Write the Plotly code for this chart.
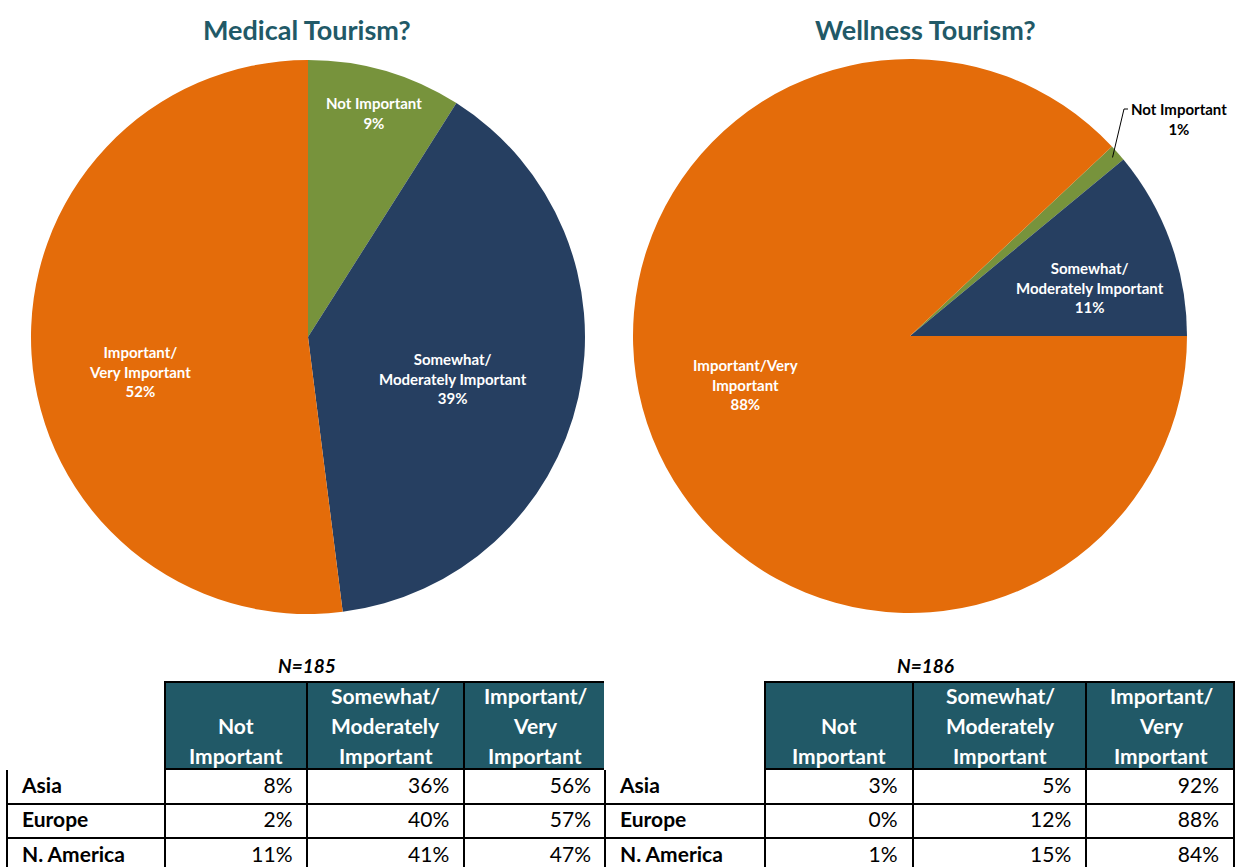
import math
import plotly.graph_objects as go

W, H = 1235, 867

ORANGE = "#E46C0A"
NAVY = "#263F61"
GREEN = "#77933C"
TEAL = "#215967"
FONT = "Lato"

# pie data
categories = ["Not Important", "Somewhat/Moderately Important", "Important/Very Important"]
medical_pct = [9, 39, 52]
wellness_pct = [1, 11, 88]
medical_labels = ["Not Important", "Somewhat/<br>Moderately Important", "Important/<br>Very Important"]
wellness_labels = ["Not Important", "Somewhat/<br>Moderately Important", "Important/Very<br>Important"]
slice_colors = [GREEN, NAVY, ORANGE]

# table data
regions = ["Asia", "Europe", "N.\u00a0America"]
table_header = [[], ["Not", "Important"], ["Somewhat/", "Moderately", "Important"], ["Important/", "Very", "Important"]]
medical_not = [8, 2, 11]
medical_somewhat = [36, 40, 41]
medical_important = [56, 57, 47]
wellness_not = [3, 0, 1]
wellness_somewhat = [5, 12, 15]
wellness_important = [92, 88, 84]
medical_n = 185
wellness_n = 186


def px(x, y):
    return x / W, 1 - y / H


fig = go.Figure()

# wellness pie: orange slice should start at 3 o'clock
wellness_rot = 90 - 360 * (wellness_pct[0] + wellness_pct[1]) / sum(wellness_pct)

for vals, x0, x1, y0, y1, rot in [
    (medical_pct, 31, 585, 60, 614, 0),
    (wellness_pct, 633, 1187, 59, 613, wellness_rot),
]:
    fig.add_trace(go.Pie(
        labels=categories, values=vals, sort=False, direction="clockwise", rotation=rot,
        marker=dict(colors=slice_colors, line=dict(width=0)),
        textinfo="none", hoverinfo="label+percent", showlegend=False,
        domain=dict(x=[x0 / W, x1 / W], y=[1 - y1 / H, 1 - y0 / H]),
    ))

annotations = []


def label(x, y, text, size=15, color="white", yanchor="middle", **kw):
    ax, ay = px(x, y)
    annotations.append(dict(x=ax, y=ay, xref="paper", yref="paper", text=text, showarrow=False,
                            xanchor="center", yanchor=yanchor,
                            font=dict(family=FONT, size=size, color=color, weight="bold", **kw)))


TABLE_TOP = 682
HEADER_H = 87
ROW_H = 34.5
PAD = "\u2004"


def add_table(x0, x1, widths, c1, c2, c3):
    fig.add_trace(go.Table(
        domain=dict(x=[x0 / W, x1 / W], y=[0, 1 - TABLE_TOP / H]),
        columnwidth=widths,
        header=dict(
            values=["", "", "", ""],
            fill_color=["white", TEAL, TEAL, TEAL],
            line=dict(color=["white", "black", "black", "black"], width=2),
            height=HEADER_H,
        ),
        cells=dict(
            values=[[PAD + r for r in regions]] + [[f"{v}%{PAD}" for v in c] for c in (c1, c2, c3)],
            fill_color="white",
            line=dict(color="black", width=2),
            align=["left", "right", "right", "right"], height=ROW_H,
            font=dict(family=FONT, size=21, color="black",
                      weight=["bold", "normal", "normal", "normal"]),
        ),
    ))
    # header captions, one line at a time, bottom aligned
    scale = (x1 - x0) / sum(widths)
    left = x0
    for w, lines in zip(widths, table_header):
        cx = left + w * scale / 2
        for k, line in enumerate(reversed(lines)):
            label(cx, TABLE_TOP + HEADER_H - 14 - 30 * k, line, size=21)
        left += w * scale


add_table(7, 606, [158, 143, 157, 142], medical_not, medical_somewhat, medical_important)
add_table(605, W, [160, 148, 174, 148], wellness_not, wellness_somewhat, wellness_important)

label(307, 30, "Medical Tourism?", size=27, color=TEAL)
label(926, 30, "Wellness Tourism?", size=27, color=TEAL)
label(307, 665, "N=" + str(medical_n), size=19, color="black", style="italic")
label(925, 665, "N=" + str(wellness_n), size=19, color="black", style="italic")

for (x, y), lab, v in zip([(374, 113), (453, 378), (140, 371)], medical_labels, medical_pct):
    label(x, y, f"{lab}<br>{v}%")
for (x, y), lab, v, c in zip([(1179, 119), (1090, 287), (745, 384)], wellness_labels, wellness_pct,
                             ["black", "white", "white"]):
    label(x, y, f"{lab}<br>{v}%", color=c)

# leader line for the small wellness slice
mid = math.radians(wellness_rot + 360 * wellness_pct[0] / 2 / sum(wellness_pct))
sx, sy = 910 + 270 * math.sin(mid), 336 - 270 * math.cos(mid)
pts = [px(sx, sy), px(1124, 109), px(1128, 109)]
path = "M " + " L ".join(f"{a},{b}" for a, b in pts)
shapes = [dict(type="path", path=path, xref="paper", yref="paper", line=dict(color="black", width=1))]

fig.update_layout(
    width=W, height=H, margin=dict(l=0, r=0, t=0, b=0),
    paper_bgcolor="white", plot_bgcolor="white",
    annotations=annotations, shapes=shapes,
    font=dict(family=FONT),
)

fig.write_html("out.html", config={"displayModeBar": False},
               post_script="document.body.style.margin='0';")
